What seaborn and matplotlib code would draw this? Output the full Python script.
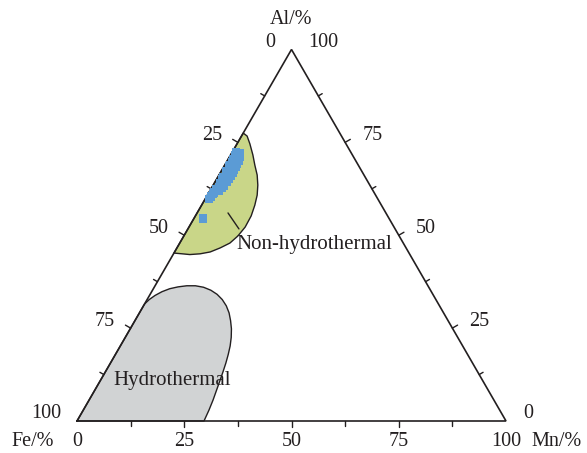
import numpy as np
import pandas as pd
import matplotlib
matplotlib.use("Agg")
import matplotlib.pyplot as plt
import seaborn as sns

# ---------------- data (ternary: Mn %, Al %; Fe = 100 - Mn - Al) ----------------
sample_mn = [1.0, 1.2, 1.0, 1.3, 1.1, 1.4, 1.2, 1.5, 1.3, 1.6, 1.4, 1.6, 1.3, 1.2, 1.0, 0.9,
             1.1, 1.3, 1.2, 1.4, 1.3, 1.5, 1.4, 1.2, 1.1,
             2.6, 2.8, 2.9, 3.0, 2.8, 2.5, 2.7, 2.9, 3.1, 2.9, 2.6, 2.2, 2.0,
             2.2]
sample_al = [72.3, 71.5, 70.6, 69.8, 69.0, 68.1, 67.3, 66.5, 65.6, 64.8, 64.0, 63.1, 62.3, 61.5, 60.6, 59.8,
             71.9, 70.2, 68.5, 66.9, 65.2, 63.5, 61.9, 61.0, 60.2,
             71.0, 69.2, 67.6, 65.9, 64.3, 62.6, 70.1, 68.4, 66.7, 65.1, 63.4, 61.8, 72.0,
             54.5]

nonhydro_mn = [0.0, 1.3, 3.0, 5.2, 7.0, 8.9, 10.4, 11.6, 12.4, 13.0, 13.1, 12.6, 11.7, 10.1, 8.3,
               6.2, 3.9, 2.0, 0.0]
nonhydro_al = [77.5, 76.7, 74.6, 71.6, 68.9, 66.2, 63.5, 60.8, 58.1, 55.2, 52.2, 49.8, 47.9, 46.6, 45.5,
               45.0, 44.8, 45.0, 45.2]

hydro_mn = [0.0, 0.0, 0.5, 1.3, 2.4, 3.8, 5.5, 7.4, 9.4, 11.5, 13.6, 15.6, 17.5, 19.3, 20.9, 22.3,
            23.6, 24.7, 25.6, 26.3, 26.9, 27.4, 27.9, 28.4, 28.9, 29.3, 29.6]
hydro_al = [0.0, 31.5, 32.7, 33.8, 34.8, 35.6, 36.1, 36.4, 36.4, 36.0, 35.2, 34.1, 32.7, 31.0, 29.1, 27.0,
            24.8, 22.5, 20.2, 17.9, 15.6, 13.3, 10.8, 8.2, 5.6, 2.9, 0.0]

# leader line from the "Non-hydrothermal" label into its field
leader_mn = [7.2, 11.9]
leader_al = [56.0, 51.7]

fe_labels = ["0", "25", "50", "75", "100"]      # left edge (apex -> Fe corner)
al_labels = ["100", "75", "50", "25", "0"]      # right edge (apex -> Mn corner)
mn_labels = ["0", "25", "50", "75", "100"]      # bottom edge

# ---------------- helpers ----------------
H = np.sqrt(3) / 2
PX = 4.29  # pixels per data unit


def tern(mn, al):
    mn = np.asarray(mn, float)
    al = np.asarray(al, float)
    return mn + al / 2, al * H


sns.set_style("white")
plt.rcParams["font.family"] = ["Liberation Serif", "DejaVu Serif"]
TXT = "#231f20"

fig = plt.figure(figsize=(5.87, 4.53), dpi=100)
ax = fig.add_axes([0, 0, 1, 1])
ax.set_xlim(-77 / PX, (587 - 77) / PX)
ax.set_ylim(-(453 - 421) / PX, 421 / PX)
ax.axis("off")

# regions
hx, hy = tern(hydro_mn, hydro_al)
ax.fill(hx, hy, facecolor="#d1d3d4", edgecolor=TXT, lw=1.0, zorder=1, joinstyle="round")
nx, ny = tern(nonhydro_mn, nonhydro_al)
ax.fill(nx, ny, facecolor="#c9d688", edgecolor=TXT, lw=1.0, zorder=1, joinstyle="round")

# triangle
ax.plot([0, 100, 50, 0], [0, 0, 100 * H, 0], color=TXT, lw=1.2, zorder=3,
        solid_joinstyle="miter")

# ticks (outward, perpendicular)
for v in np.arange(12.5, 100, 12.5):
    L = (6.0 if v % 25 == 0 else 4.5) / PX
    ax.plot([v, v], [0, -L], color=TXT, lw=1.0, zorder=3)
    x0, y0 = v / 2, v * H
    ax.plot([x0, x0 - L * H], [y0, y0 + L * 0.5], color=TXT, lw=1.0, zorder=3)
    x0, y0 = 100 - v / 2, v * H
    ax.plot([x0, x0 + L * H], [y0, y0 + L * 0.5], color=TXT, lw=1.0, zorder=3)

# leader line
lx, ly = tern(leader_mn, leader_al)
ax.plot(lx, ly, color=TXT, lw=1.0, zorder=3)

# samples
px_, py_ = tern(sample_mn, sample_al)
df = pd.DataFrame({"x": px_, "y": py_})
sns.scatterplot(data=df, x="x", y="y", marker="s", s=34, color="#5b9bd5",
                edgecolor="none", linewidth=0, ax=ax, zorder=4)
ax.set_xlabel("")
ax.set_ylabel("")

FS = 14.5
for i, lab in enumerate(fe_labels):
    al = 100 - 25 * i
    x0, y0 = al / 2, al * H
    ax.text(x0 - 16 / PX, y0 + 7 / PX, lab, ha="right", va="center", fontsize=FS, color=TXT)
for i, lab in enumerate(al_labels):
    al = 100 - 25 * i
    x0, y0 = 100 - al / 2, al * H
    ax.text(x0 + 17 / PX, y0 + 7 / PX, lab, ha="left", va="center", fontsize=FS, color=TXT)
for i, lab in enumerate(mn_labels):
    ax.text(25 * i, -20 / PX, lab, ha="center", va="center", fontsize=FS, color=TXT)

ax.text((291 - 77) / PX, (421 - 20) / PX, "Al/%", ha="center", va="center", fontsize=FS, color=TXT)
ax.text((33 - 77) / PX, -20 / PX, "Fe/%", ha="center", va="center", fontsize=FS, color=TXT)
ax.text((557 - 77) / PX, -20 / PX, "Mn/%", ha="center", va="center", fontsize=FS, color=TXT)

ax.text((236 - 77) / PX, (421 - 245) / PX, "Non-hydrothermal", ha="left", va="center",
        fontsize=15, color=TXT, zorder=5)
ax.text((113 - 77) / PX, (421 - 380) / PX, "Hydrothermal", ha="left", va="center",
        fontsize=15, color=TXT, zorder=5)

fig.savefig("out.png", dpi=100)
